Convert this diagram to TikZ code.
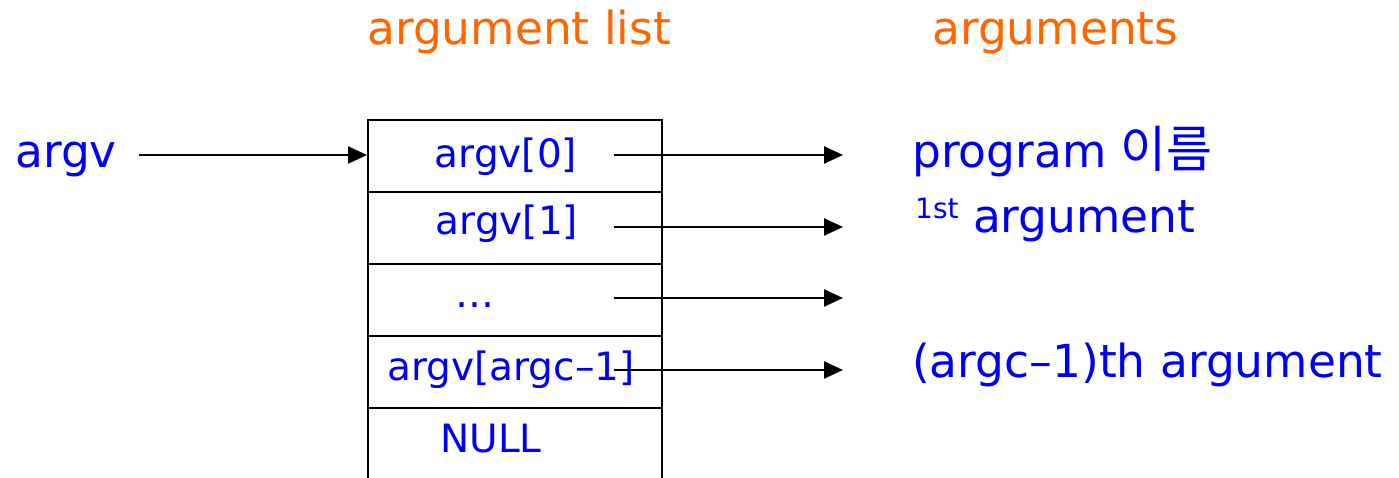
\documentclass[tikz,border=0pt]{standalone}
\usepackage{fontspec}
\setmainfont{DejaVu Sans}
\newfontfamily\krfont{Noto Sans CJK KR}
\usetikzlibrary{arrows.meta}
\definecolor{txtblue}{HTML}{0000F0}
\definecolor{hdorange}{HTML}{FF6600}
\begin{document}
\begin{tikzpicture}[x=1pt,y=-1pt,
  big/.style={text=txtblue,font=\fontsize{45.5}{50}\selectfont,inner sep=0pt},
  small/.style={text=txtblue,font=\fontsize{39}{44}\selectfont,inner sep=0pt},
  head/.style={text=hdorange,font=\fontsize{45.5}{50}\selectfont,inner sep=0pt},
  cell/.style={draw=black,line width=1.8pt,minimum width=294pt,minimum height=72pt,inner sep=0pt,anchor=north west},
  arr/.style={line width=2.4pt,-{Triangle[length=19pt,width=17pt]}}]
\useasboundingbox (0,0) rectangle (1399,478);
\clip (0,0) rectangle (1399,478);

% headings
\node[head,anchor=base west] (hlist) at (367,45) {argument list};
\node[head,anchor=base west] (hargs) at (932,45) {arguments};

% the argv pointer
\node[big,anchor=base west] (argv) at (15,168) {argv};

% the argument list cells
\node[cell] (c0) at (367,119) {};
\node[cell] (c1) at (367,191) {};
\node[cell] (c2) at (367,263) {};
\node[cell] (c3) at (367,335) {};
\node[cell,minimum height=100pt] (c4) at (367,407) {};

\node[small,anchor=base] (l0) at (506,168) {argv[0]};
\node[small,anchor=base] (l1) at (507,235) {argv[1]};
\node[small,anchor=base] (l2) at (475,307) {\dots};
\node[small,anchor=base] (l3) at (511,380) {argv[argc–1]};
\node[small,anchor=base] (l4) at (491,452) {NULL};

% the arguments
\node[big,anchor=base west] (a0) at (912,168) {program {\krfont\fontsize{50}{54}\selectfont 이름}};
\node[big,anchor=base west] (a1) at (915,233) {\raisebox{14pt}{\fontsize{28}{30}\selectfont 1st} argument};
\node[big,anchor=base west] (a3) at (912,377) {(argc–1)th argument};

% pointers
\coordinate (s0) at (614,155);
\coordinate (s1) at (614,227);
\coordinate (s2) at (614,298);
\coordinate (s3) at (614,370);
\coordinate (t0) at (843,155);
\coordinate (t1) at (843,227);
\coordinate (t2) at (843,298);
\coordinate (t3) at (843,370);
\coordinate (p0) at (139,155);

\draw[arr] (p0) -- (p0 -| c0.west);
\draw[arr] (s0) -- (t0);
\draw[arr] (s1) -- (t1);
\draw[arr] (s2) -- (t2);
\draw[arr] (s3) -- (t3);
\end{tikzpicture}
\end{document}
